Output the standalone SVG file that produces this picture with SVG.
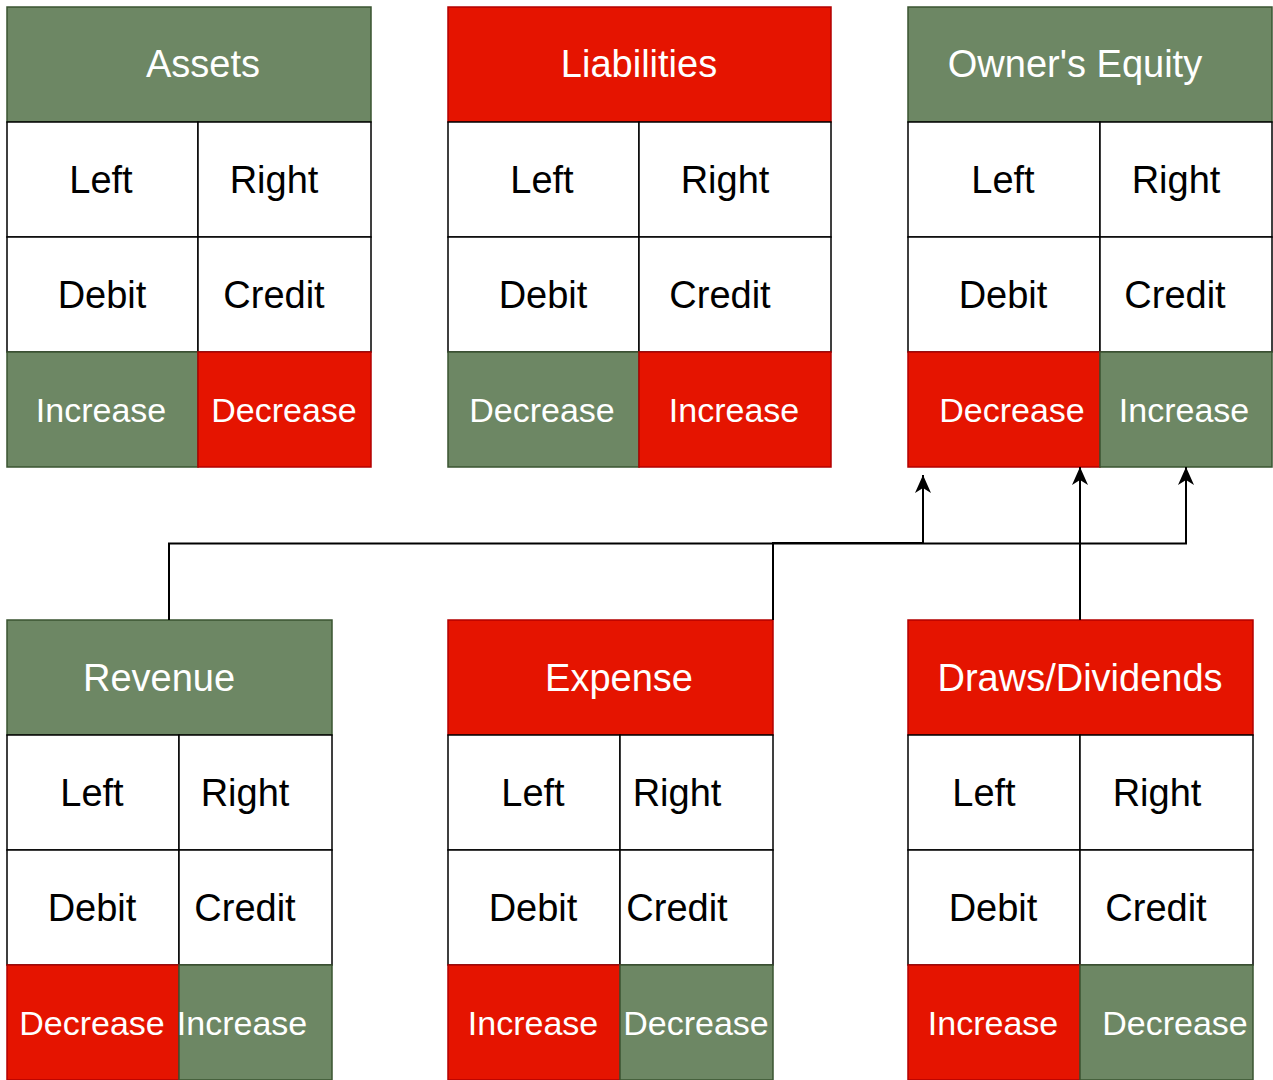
<svg xmlns="http://www.w3.org/2000/svg" width="1273" height="1080" viewBox="0 0 1273 1080">
<defs>
<style>
.g{fill:#6d8764;stroke:#3a5431;stroke-width:1.5}
.r{fill:#e51400;stroke:#b20000;stroke-width:1.5}
.w{fill:#ffffff;stroke:#000000;stroke-width:1.5}
text{font-family:"Liberation Sans",Arial,sans-serif;text-anchor:middle}
.h{font-size:38px;fill:#ffffff}
.t{font-size:38px;fill:#000000}
.b{font-size:34px;fill:#ffffff}
.c{fill:none;stroke:#000000;stroke-width:2}
</style>
<marker id="ar" markerWidth="18" markerHeight="16" refX="18" refY="8" orient="auto" markerUnits="userSpaceOnUse" viewBox="0 0 18 16">
<path d="M18,8 L0,0 L5,8 L0,16 Z" fill="#000"/>
</marker>
</defs>
<rect width="1273" height="1080" fill="#ffffff"/>

<g id="assets">
<rect class="g" x="7" y="7" width="364" height="115"/>
<rect class="w" x="7" y="122" width="191" height="115"/>
<rect class="w" x="198" y="122" width="173" height="115"/>
<rect class="w" x="7" y="237" width="191" height="115"/>
<rect class="w" x="198" y="237" width="173" height="115"/>
<rect class="g" x="7" y="352" width="191" height="115"/>
<rect class="r" x="198" y="352" width="173" height="115"/>
<text class="h" x="203" y="77">Assets</text>
<text class="t" x="101" y="193">Left</text>
<text class="t" x="274" y="193">Right</text>
<text class="t" x="102" y="308">Debit</text>
<text class="t" x="274" y="308">Credit</text>
<text class="b" x="101" y="422">Increase</text>
<text class="b" x="284" y="422">Decrease</text>
</g>

<g id="liabilities">
<rect class="r" x="448" y="7" width="383" height="115"/>
<rect class="w" x="448" y="122" width="191" height="115"/>
<rect class="w" x="639" y="122" width="192" height="115"/>
<rect class="w" x="448" y="237" width="191" height="115"/>
<rect class="w" x="639" y="237" width="192" height="115"/>
<rect class="g" x="448" y="352" width="191" height="115"/>
<rect class="r" x="639" y="352" width="192" height="115"/>
<text class="h" x="639" y="77">Liabilities</text>
<text class="t" x="542" y="193">Left</text>
<text class="t" x="725" y="193">Right</text>
<text class="t" x="543" y="308">Debit</text>
<text class="t" x="720" y="308">Credit</text>
<text class="b" x="542" y="422">Decrease</text>
<text class="b" x="734" y="422">Increase</text>
</g>

<g id="equity">
<rect class="g" x="908" y="7" width="364" height="115"/>
<rect class="w" x="908" y="122" width="192" height="115"/>
<rect class="w" x="1100" y="122" width="172" height="115"/>
<rect class="w" x="908" y="237" width="192" height="115"/>
<rect class="w" x="1100" y="237" width="172" height="115"/>
<rect class="r" x="908" y="352" width="192" height="115"/>
<rect class="g" x="1100" y="352" width="172" height="115"/>
<text class="h" x="1075" y="77">Owner's Equity</text>
<text class="t" x="1003" y="193">Left</text>
<text class="t" x="1176" y="193">Right</text>
<text class="t" x="1003" y="308">Debit</text>
<text class="t" x="1175" y="308">Credit</text>
<text class="b" x="1012" y="422">Decrease</text>
<text class="b" x="1184" y="422">Increase</text>
</g>

<g id="revenue">
<rect class="g" x="7" y="620" width="325" height="115"/>
<rect class="w" x="7" y="735" width="172" height="115"/>
<rect class="w" x="179" y="735" width="153" height="115"/>
<rect class="w" x="7" y="850" width="172" height="115"/>
<rect class="w" x="179" y="850" width="153" height="115"/>
<rect class="r" x="7" y="965" width="172" height="115"/>
<rect class="g" x="179" y="965" width="153" height="115"/>
<text class="h" x="159" y="691">Revenue</text>
<text class="t" x="92" y="806">Left</text>
<text class="t" x="245" y="806">Right</text>
<text class="t" x="92" y="921">Debit</text>
<text class="t" x="245" y="921">Credit</text>
<text class="b" x="92" y="1035">Decrease</text>
<text class="b" x="242" y="1035">Increase</text>
</g>

<g id="expense">
<rect class="r" x="448" y="620" width="325" height="115"/>
<rect class="w" x="448" y="735" width="172" height="115"/>
<rect class="w" x="620" y="735" width="153" height="115"/>
<rect class="w" x="448" y="850" width="172" height="115"/>
<rect class="w" x="620" y="850" width="153" height="115"/>
<rect class="r" x="448" y="965" width="172" height="115"/>
<rect class="g" x="620" y="965" width="153" height="115"/>
<text class="h" x="619" y="691">Expense</text>
<text class="t" x="533" y="806">Left</text>
<text class="t" x="677" y="806">Right</text>
<text class="t" x="533" y="921">Debit</text>
<text class="t" x="677" y="921">Credit</text>
<text class="b" x="533" y="1035">Increase</text>
<text class="b" x="696" y="1035">Decrease</text>
</g>

<g id="draws">
<rect class="r" x="908" y="620" width="345" height="115"/>
<rect class="w" x="908" y="735" width="172" height="115"/>
<rect class="w" x="1080" y="735" width="173" height="115"/>
<rect class="w" x="908" y="850" width="172" height="115"/>
<rect class="w" x="1080" y="850" width="173" height="115"/>
<rect class="r" x="908" y="965" width="172" height="115"/>
<rect class="g" x="1080" y="965" width="173" height="115"/>
<text class="h" x="1080" y="691">Draws/Dividends</text>
<text class="t" x="984" y="806">Left</text>
<text class="t" x="1157" y="806">Right</text>
<text class="t" x="993" y="921">Debit</text>
<text class="t" x="1156" y="921">Credit</text>
<text class="b" x="993" y="1035">Increase</text>
<text class="b" x="1175" y="1035">Decrease</text>
</g>

<g id="connectors">
<path class="c" d="M169,620 V543.5 H1186 V467" marker-end="url(#ar)"/>
<path class="c" d="M773,620 V543 H923 V475" marker-end="url(#ar)"/>
<path class="c" d="M1080,620 V467" marker-end="url(#ar)"/>
</g>
</svg>
